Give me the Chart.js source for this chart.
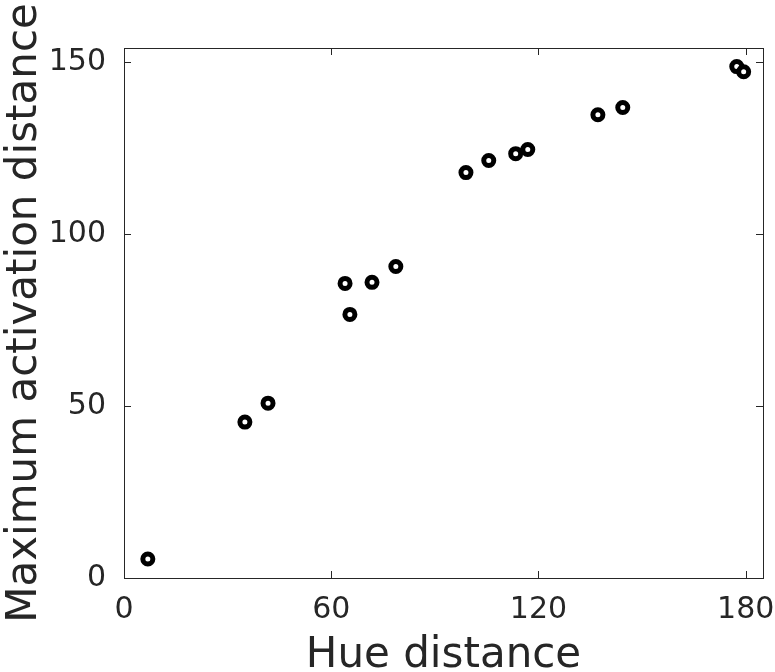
<!DOCTYPE html>
<html lang="en">
<head>
  <meta charset="UTF-8">
  <title>Hue distance vs activation distance</title>
  <script src="https://cdn.jsdelivr.net/npm/chart.js"></script>
  <style>
    html, body { margin:0; padding:0; background:#fff; }
    #wrap { width:775px; height:672px; }
  </style>
</head>
<body>
  <div id="wrap"><canvas id="c"></canvas></div>
  <script>
    // values
    const hueDist = [6.9, 35.0, 41.7, 64.0, 65.4, 71.8, 78.7, 99.0, 105.6, 113.4, 116.9, 137.2, 144.4, 177.4, 179.4];
    const actDist = [5.5, 45.3, 50.8, 85.6, 76.6, 85.9, 90.5, 117.8, 121.3, 123.3, 124.5, 134.6, 136.7, 148.6, 147.1];
    const xTicks = [0, 60, 120, 180];
    const yTicks = [0, 50, 100, 150];

    const ink = '#262626';

    // box round the plot, with ticks pointing inwards on all four sides
    const frame = {
      id: 'frame',
      afterDatasetsDraw(chart) {
        const { ctx, chartArea: a, scales } = chart;
        ctx.save();
        ctx.strokeStyle = ink;
        ctx.lineWidth = 1;
        ctx.strokeRect(a.left + 0.5, a.top + 0.5, a.right - a.left, a.bottom - a.top);
        const len = 7;
        ctx.beginPath();
        xTicks.forEach(v => {
          const x = Math.round(scales.x.getPixelForValue(v)) + 0.5;
          ctx.moveTo(x, a.bottom); ctx.lineTo(x, a.bottom - len);
          ctx.moveTo(x, a.top); ctx.lineTo(x, a.top + len);
        });
        yTicks.forEach(v => {
          const y = Math.round(scales.y.getPixelForValue(v)) + 0.5;
          ctx.moveTo(a.left, y); ctx.lineTo(a.left + len, y);
          ctx.moveTo(a.right, y); ctx.lineTo(a.right - len, y);
        });
        ctx.stroke();
        ctx.restore();
      }
    };

    new Chart(document.getElementById('c'), {
      type: 'scatter',
      data: {
        datasets: [{
          data: hueDist.map((x, i) => ({ x, y: actDist[i] })),
          pointStyle: 'circle',
          pointRadius: 5,
          pointBorderWidth: 5,
          pointBorderColor: '#000',
          pointBackgroundColor: '#fff',
          pointHoverRadius: 5
        }]
      },
      options: {
        responsive: true,
        maintainAspectRatio: false,
        animation: false,
        layout: { padding: { left: 0, right: 12, top: 48, bottom: 0 } },
        plugins: { legend: { display: false }, tooltip: { enabled: false } },
        scales: {
          x: {
            type: 'linear', min: 0, max: 185,
            afterBuildTicks: s => { s.ticks = xTicks.map(v => ({ value: v })); },
            afterFit: s => { s.height = 94; s.paddingRight = 0; s.paddingLeft = 0; },
            grid: { display: false },
            border: { display: false },
            ticks: { color: ink, padding: 6, font: { family: 'DejaVu Sans', size: 30 } },
            title: { display: true, text: 'Hue distance', color: ink, padding: { top: 0, bottom: -9 },
                     font: { family: 'DejaVu Sans', size: 42 } }
          },
          y: {
            type: 'linear', min: 0, max: 154,
            afterBuildTicks: s => { s.ticks = yTicks.map(v => ({ value: v })); },
            afterFit: s => { s.width = 124; },
            grid: { display: false },
            border: { display: false },
            ticks: { color: ink, padding: 10, font: { family: 'DejaVu Sans', size: 30 } },
            title: { display: true, text: 'Maximum activation distance', color: ink, padding: { top: 0, bottom: 0 },
                     font: { family: 'DejaVu Sans', size: 42 } }
          }
        }
      },
      plugins: [frame]
    });
  </script>
</body>
</html>
